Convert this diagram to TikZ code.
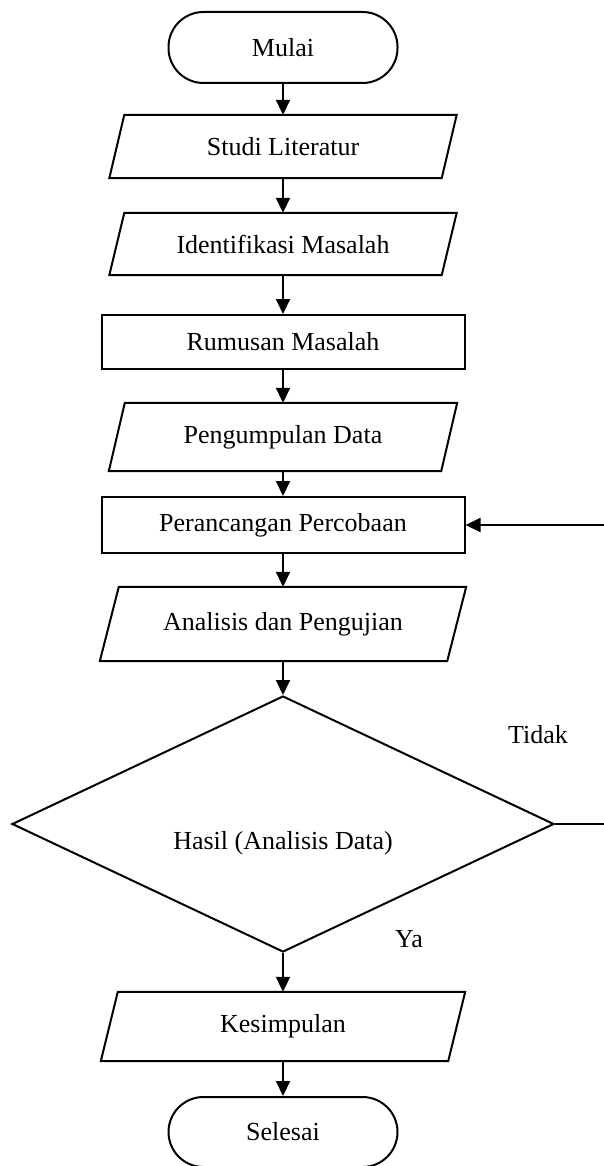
\documentclass[tikz,border=0pt]{standalone}
\usepackage{fontspec}
\setmainfont{Liberation Serif}
\usetikzlibrary{shapes.geometric,arrows.meta}
\begin{document}
\begin{tikzpicture}[x=1pt,y=-1pt,
  every node/.style={font=\fontsize{26}{30}\selectfont, inner sep=0pt},
  ln/.style={line width=2pt},
  term/.style={draw, ln, rounded corners=35pt, minimum width=229pt, minimum height=71pt},
  proc/.style={draw, ln, minimum width=363pt},
  iobox/.style={draw=none},
  dec/.style={draw, ln, diamond, minimum width=542pt, minimum height=256pt},
  arr/.style={ln, -{Triangle[length=15pt,width=14pt]}}
]
\useasboundingbox (0,0) rectangle (603,1166);

\node[term] (mulai) at (283,47.5) {Mulai};
\node[iobox, minimum width=332pt, minimum height=63pt] (studi) at (283,146.5) {Studi Literatur};
\node[iobox, minimum width=332pt, minimum height=62pt] (ident) at (283,244) {Identifikasi Masalah};
\node[proc, minimum height=54pt] (rumus) at (283,342) {Rumusan Masalah};
\node[iobox, minimum width=332pt, minimum height=68pt] (kumpul) at (283,437) {Pengumpulan Data};
\node[proc, minimum height=56pt] (ranc) at (283,525) {Perancangan Percobaan};
\node[iobox, minimum width=347pt, minimum height=74pt] (anal) at (283,624) {Analisis dan Pengujian};
\node[dec] (hasil) at (283,824) {};
\node (hasiltxt) at (283,843) {Hasil (Analisis Data)};
\node[iobox, minimum width=347pt, minimum height=69pt] (kesim) at (283,1026.5) {Kesimpulan};
\node[term, minimum height=70pt] (selesai) at (283,1132) {Selesai};
\node (tidak) at (538,735) {Tidak};
\node (ya) at (409,939) {Ya};

\foreach \n/\s in {studi/7.5,ident/7.5,kumpul/8,anal/9.5,kesim/8.5}
  \draw[ln] ([xshift=\s pt]\n.north west) -- ([xshift=\s pt]\n.north east)
    -- ([xshift=-\s pt]\n.south east) -- ([xshift=-\s pt]\n.south west) -- cycle;

\draw[arr] (mulai.south) -- (studi.north);
\draw[arr] (studi.south) -- (ident.north);
\draw[arr] (ident.south) -- (rumus.north);
\draw[arr] (rumus.south) -- (kumpul.north);
\draw[arr] (kumpul.south) -- (ranc.north);
\draw[arr] (ranc.south) -- (anal.north);
\draw[arr] (anal.south) -- (hasil.north);
\draw[arr] (hasil.south) -- (kesim.north);
\draw[arr] (kesim.south) -- (selesai.north);

\coordinate (edge) at (606,0);
\draw[arr] (hasil.east) -- (hasil.east -| edge) |- (ranc.east);
\end{tikzpicture}
\end{document}
